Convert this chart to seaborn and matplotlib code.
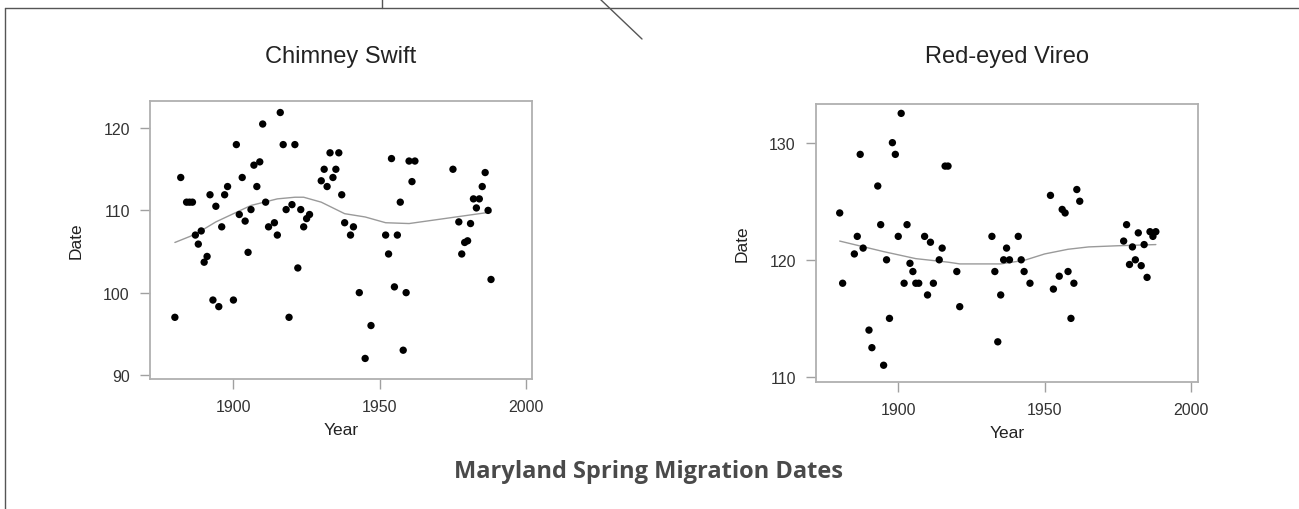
import numpy as np
import pandas as pd
import matplotlib
matplotlib.use("Agg")
import matplotlib.pyplot as plt
from matplotlib.lines import Line2D
import seaborn as sns

# Chimney Swift: arrival day of year by year
swift_years = [1880, 1882, 1884, 1885, 1886, 1887, 1888, 1889, 1890, 1891,
               1892, 1893, 1894, 1895, 1896, 1897, 1898, 1900, 1901, 1902,
               1903, 1904, 1905, 1906, 1907, 1908, 1909, 1910, 1911, 1912,
               1914, 1915, 1916, 1917, 1918, 1919, 1920, 1921, 1922, 1923,
               1924, 1925, 1926, 1930, 1931, 1932, 1933, 1934, 1935, 1936,
               1937, 1938, 1940, 1941, 1943, 1945, 1947, 1952, 1953, 1954,
               1955, 1956, 1957, 1958, 1959, 1960, 1961, 1962, 1975, 1977,
               1978, 1979, 1980, 1981, 1982, 1983, 1984, 1985, 1986, 1987,
               1988]
swift_dates = [97.0, 114.0, 111.0, 111.0, 111.0, 107.0, 105.9, 107.5, 103.7, 104.4,
               111.9, 99.1, 110.5, 98.3, 108.0, 111.9, 112.9, 99.1, 118.0, 109.5,
               114.0, 108.7, 104.9, 110.1, 115.5, 112.9, 115.9, 120.5, 111.0, 108.0,
               108.5, 107.0, 121.9, 118.0, 110.1, 97.0, 110.7, 118.0, 103.0, 110.1,
               108.0, 109.0, 109.5, 113.6, 115.0, 112.9, 117.0, 114.0, 115.0, 117.0,
               111.9, 108.5, 107.0, 108.0, 100.0, 92.0, 96.0, 107.0, 104.7, 116.3,
               100.7, 107.0, 111.0, 93.0, 100.0, 116.0, 113.5, 116.0, 115.0, 108.6,
               104.7, 106.1, 106.3, 108.4, 111.4, 110.3, 111.4, 112.9, 114.6, 110.0,
               101.6]
swift_trend_years = [1880, 1887, 1894, 1906, 1915, 1921, 1924, 1930, 1938, 1945,
                     1952, 1960, 1970, 1980, 1988]
swift_trend_dates = [106.1, 107.1, 108.6, 110.6, 111.4, 111.6, 111.6, 111.0, 109.6, 109.2,
                     108.5, 108.4, 108.9, 109.4, 109.8]

# Red-eyed Vireo
vireo_years = [1880, 1881, 1885, 1886, 1887, 1888, 1890, 1891, 1893, 1894,
               1895, 1896, 1897, 1898, 1899, 1900, 1901, 1902, 1903, 1904,
               1905, 1906, 1907, 1909, 1910, 1911, 1912, 1914, 1915, 1916,
               1917, 1920, 1921, 1932, 1933, 1934, 1935, 1936, 1937, 1938,
               1941, 1942, 1943, 1945, 1952, 1953, 1955, 1956, 1957, 1958,
               1959, 1960, 1961, 1962, 1977, 1978, 1979, 1980, 1981, 1982,
               1983, 1984, 1985, 1986, 1987, 1988]
vireo_dates = [124.0, 118.0, 120.5, 122.0, 129.0, 121.0, 114.0, 112.5, 126.3, 123.0,
               111.0, 120.0, 115.0, 130.0, 129.0, 122.0, 132.5, 118.0, 123.0, 119.7,
               119.0, 118.0, 118.0, 122.0, 117.0, 121.5, 118.0, 120.0, 121.0, 128.0,
               128.0, 119.0, 116.0, 122.0, 119.0, 113.0, 117.0, 120.0, 121.0, 120.0,
               122.0, 120.0, 119.0, 118.0, 125.5, 117.5, 118.6, 124.3, 124.0, 119.0,
               115.0, 118.0, 126.0, 125.0, 121.6, 123.0, 119.6, 121.1, 120.0, 122.3,
               119.5, 121.3, 118.5, 122.4, 122.0, 122.4]
vireo_trend_years = [1880, 1895, 1906, 1917, 1921, 1935, 1943, 1950, 1958, 1965,
                     1975, 1988]
vireo_trend_dates = [121.6, 120.7, 120.1, 119.8, 119.65, 119.65, 119.95, 120.5, 120.9, 121.1,
                     121.2, 121.3]

sns.set_style("white")
plt.rcParams['font.family'] = ['Liberation Sans', 'DejaVu Sans']

W, H = 1299, 510
fig = plt.figure(figsize=(W / 100, H / 100), dpi=100)

def px_axes(x0, y0, x1, y1):
    return fig.add_axes([x0 / W, 1 - y1 / H, (x1 - x0) / W, (y1 - y0) / H])

panels = [
    dict(box=(150, 102, 532, 380), title="Chimney Swift", tpad=28,
         x=swift_years, y=swift_dates, tx=swift_trend_years, ty=swift_trend_dates,
         xlim=(1871.5, 2002), ylim=(89.5, 123.3), yticks=[90, 100, 110, 120]),
    dict(box=(816, 105, 1198, 383), title="Red-eyed Vireo", tpad=30,
         x=vireo_years, y=vireo_dates, tx=vireo_trend_years, ty=vireo_trend_dates,
         xlim=(1871.9, 2002.4), ylim=(109.57, 133.3), yticks=[110, 120, 130]),
]

for p in panels:
    ax = px_axes(*p["box"])
    sns.lineplot(x=p["tx"], y=p["ty"], ax=ax, color="#9a9a9a", linewidth=1.0)
    sns.scatterplot(x=p["x"], y=p["y"], ax=ax, color="black", s=28,
                    edgecolor="none", linewidth=0, zorder=3)
    ax.set_xlim(*p["xlim"])
    ax.set_ylim(*p["ylim"])
    ax.set_xticks([1900, 1950, 2000])
    ax.set_yticks(p["yticks"])
    for s in ax.spines.values():
        s.set_color("#b0b0b0")
        s.set_linewidth(1.3)
    ax.tick_params(direction="out", length=7, width=1, color="#a0a0a0",
                   labelcolor="#333333", labelsize=11.5, pad=7.5,
                   bottom=True, left=True)
    ax.set_title(p["title"], fontsize=17, color="#222222", pad=p["tpad"])
    ax.set_xlabel("Year", fontsize=12.5, color="#222222", labelpad=6)
    ax.set_ylabel("Date", fontsize=12.5, color="#222222", labelpad=14)

fig.text(648 / W, 1 - 472 / H, "Maryland Spring Migration Dates",
         family="Open Sans", fontweight="bold",
         fontsize=17, color="#4a4a4a", ha="center", va="center")

# page frame lines around the figure
for xs, ys in [((5, W), (9, 9)), ((5, 5), (9, H)),
               ((382, 382), (0, 9)), ((600, 642), (0, 40))]:
    fig.add_artist(Line2D([x / W for x in xs], [1 - y / H for y in ys],
                          color="#555555", linewidth=1.0))

fig.savefig("out.png", dpi=100)
